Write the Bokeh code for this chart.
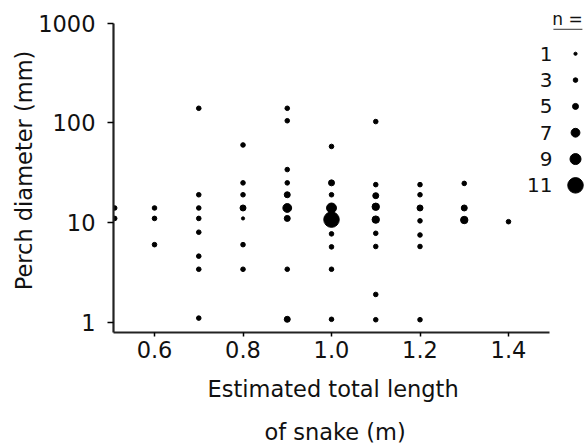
import numpy as np
from bokeh.plotting import figure
from bokeh.models import (Range1d, FixedTicker, NumeralTickFormatter, Title,
                          ColumnDataSource, LinearScale)
from bokeh.embed import file_html
from bokeh.resources import INLINE
from bokeh.core.properties import value

# ---------------- data ----------------
# estimated total length of snake (m) for each observation cell
length_m = [0.51, 0.51,
            0.6, 0.6, 0.6,
            0.7, 0.7, 0.7, 0.7, 0.7, 0.7, 0.7, 0.7,
            0.8, 0.8, 0.8, 0.8, 0.8, 0.8, 0.8,
            0.9, 0.9, 0.9, 0.9, 0.9, 0.9, 0.9, 0.9, 0.9,
            1.0, 1.0, 1.0, 1.0, 1.0, 1.0, 1.0, 1.0, 1.0,
            1.1, 1.1, 1.1, 1.1, 1.1, 1.1, 1.1, 1.1, 1.1,
            1.2, 1.2, 1.2, 1.2, 1.2, 1.2, 1.2,
            1.3, 1.3, 1.3,
            1.4]
# perch diameter (mm)
perch_mm = [14, 11,
            14, 11, 6,
            140, 19, 14, 11, 8, 4.6, 3.4, 1.1,
            60, 25, 19, 14, 11, 6, 3.4,
            140, 105, 34, 25, 19, 14, 11, 3.4, 1.07,
            58, 25, 19, 14, 10.7, 7.7, 5.7, 3.4, 1.07,
            103, 24, 18.6, 14.4, 10.7, 7.8, 5.75, 1.9, 1.06,
            24, 19, 14, 10.4, 7.5, 5.75, 1.06,
            24.7, 14, 10.6,
            10.2]
# number of observations (n) in each cell
count_n = [3, 3,
           3, 3, 3,
           3, 3, 3, 3, 3, 3, 3, 3,
           3, 3, 3, 5, 1, 3, 3,
           3, 3, 3, 3, 5, 7, 5, 3, 5,
           3, 5, 3, 8, 11, 3, 3, 3, 3,
           3, 3, 5, 6, 6, 3, 3, 3, 3,
           3, 3, 5, 3, 3, 3, 3,
           3, 5, 6,
           3]

x_ticks = [0.6, 0.8, 1.0, 1.2, 1.4]
y_ticks = [1, 10, 100, 1000]
legend_n = [1, 3, 5, 7, 9, 11]
x_title = ["Estimated total length", "of snake (m)"]
y_title = "Perch diameter (mm)"

# ---------------- styles ----------------
FONT = "DejaVu Sans"
SIZE_N = [1, 3, 5, 7, 9, 11]
SIZE_PX = [3.2, 4.6, 6.0, 8.8, 11.0, 15.5]
X_BOUNDS = (0.5073, 1.493)


def dot_size(n):
    return np.interp(n, SIZE_N, SIZE_PX)


src = ColumnDataSource(dict(x=length_m, y=perch_mm, n=count_n,
                            s=dot_size(np.array(count_n, dtype=float))))

p = figure(width=588, height=446, output_backend="svg", toolbar_location=None,
           y_axis_type="log",
           x_range=Range1d(0.5073, 1.5808), y_range=Range1d(0.789, 1403),
           min_border_left=113, min_border_right=0, min_border_top=8,
           min_border_bottom=113)
p.outline_line_color = None
p.xgrid.visible = False
p.ygrid.visible = False
p.background_fill_color = "white"
p.border_fill_color = "white"

p.scatter("x", "y", size="s", source=src, color="black", line_color="black")

# x axis
xa = p.xaxis[0]
xa.ticker = FixedTicker(ticks=x_ticks)
xa.formatter = NumeralTickFormatter(format="0.0")
xa.bounds = X_BOUNDS
xa.axis_line_width = 2.2
xa.axis_line_color = "#222222"
xa.major_tick_out = 4
xa.major_tick_in = 0
xa.major_tick_line_width = 1.5
xa.minor_tick_line_color = None
xa.major_label_standoff = 4
xa.major_label_text_font = FONT
xa.major_label_text_font_size = "22.5px"
xa.major_label_text_color = "#111111"

# y axis
ya = p.yaxis[0]
ya.ticker = FixedTicker(ticks=y_ticks)
ya.formatter = NumeralTickFormatter(format="0")
ya.bounds = (0.789, 1000)
ya.axis_line_width = 2.2
ya.axis_line_color = "#222222"
ya.major_tick_out = 6
ya.major_tick_in = 0
ya.major_tick_line_width = 1.5
ya.minor_tick_line_color = None
ya.major_label_standoff = 12
ya.major_label_text_font = FONT
ya.major_label_text_font_size = "22.5px"
ya.major_label_text_color = "#111111"
ya.axis_label = y_title
ya.axis_label_text_font = FONT
ya.axis_label_text_font_size = "22.5px"
ya.axis_label_text_font_style = "normal"
ya.axis_label_text_color = "#111111"
ya.axis_label_standoff = -2

# x axis title: two lines below the axis, aligned under the drawn axis line
t1 = Title(text=x_title[0], align="left", offset=94,
           text_font=FONT, text_font_size="22.5px", text_font_style="normal",
           text_color="#111111", standoff=26)
t2 = Title(text=x_title[1], align="left", offset=151,
           text_font=FONT, text_font_size="22.5px", text_font_style="normal",
           text_color="#111111", standoff=4)
p.add_layout(t1, "below")
p.add_layout(t2, "below")

# ---------------- size legend ----------------
p.extra_x_ranges = {"leg": Range1d(-19.09, 1.565)}
p.extra_y_ranges = {"leg": Range1d(10.59, -1.72)}
p.extra_x_scales = {"leg": LinearScale()}
p.extra_y_scales = {"leg": LinearScale()}
leg_rows = list(range(len(legend_n)))
leg_src = ColumnDataSource(dict(row=leg_rows, n=legend_n,
                                label=[str(v) for v in legend_n],
                                s=dot_size(np.array(legend_n, dtype=float)),
                                x_txt=[0] * len(legend_n),
                                x_dot=[1] * len(legend_n)))
p.text("x_txt", "row", text="label", source=leg_src, x_range_name="leg",
       y_range_name="leg", text_align="right", text_baseline="middle",
       text_font=value(FONT), text_font_size="20px", text_color="#111111")
p.scatter("x_dot", "row", size="s", source=leg_src, x_range_name="leg",
          y_range_name="leg", color="black")
p.text(x=[0.65], y=[-1.33], text=["n ="], x_range_name="leg", y_range_name="leg",
       text_align="center", text_baseline="middle", text_font=value(FONT),
       text_font_size="17px", text_color="#111111")
p.segment(x0=[0.04], y0=[-0.93], x1=[1.3], y1=[-0.93], x_range_name="leg",
          y_range_name="leg", line_color="#333333", line_width=1)

open("out.html", "w").write(file_html(p, INLINE))
